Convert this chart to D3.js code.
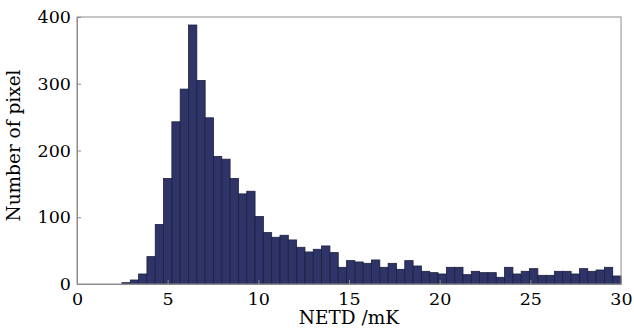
<!DOCTYPE html>
<html><head><meta charset="utf-8">
<script src="https://cdn.jsdelivr.net/npm/d3@7/dist/d3.min.js"></script>
<style>body{margin:0;background:#fff}svg{display:block}</style>
</head><body>
<svg id="c" width="634" height="328"></svg>
<script>
const binStart = 2.48;
const binWidth = 0.4587;
const counts = [2,6,15,41,89,158,243,292,388,305,249,191,187,158,135,139,101,77,70,73,66,55,48,52,57,47,25,35,33,31,36,25,31,22,35,27,19,17,15,25,25,14,19,17,17,10,25,15,19,23,13,13,19,19,15,23,19,21,25,12];
const xTicks = [0,5,10,15,20,25,30];
const yTicks = [0,100,200,300,400];
const xLabel = "NETD /mK";
const yLabel = "Number of pixel";

const svg = d3.select("#c");
const L=77,R=621,T=17,B=284;
const x = d3.scaleLinear().domain([0,30]).range([L,R]);
const y = d3.scaleLinear().domain([0,400]).range([B,T]);
const font = "'DejaVu Serif', serif";
const axisCol = "#8c8c8c";

const bins = counts.map((c,i)=>({x0:binStart+i*binWidth, x1:binStart+(i+1)*binWidth, c}));
svg.append("g").selectAll("rect").data(bins).join("rect")
  .attr("x",d=>x(d.x0)).attr("width",d=>x(d.x1)-x(d.x0))
  .attr("y",d=>y(d.c)).attr("height",d=>y(0)-y(d.c))
  .attr("fill","#2e3468").attr("stroke","#1c1f3c").attr("stroke-width",0.8);

svg.append("rect").attr("x",L).attr("y",T).attr("width",R-L).attr("height",B-T)
  .attr("fill","none").attr("stroke",axisCol).attr("stroke-width",1);

const xa = svg.append("g").attr("transform",`translate(0,${B})`)
  .call(d3.axisBottom(x).tickValues(xTicks).tickSize(-4).tickPadding(8).tickFormat(d3.format("d")));
const ya = svg.append("g").attr("transform",`translate(${L},0)`)
  .call(d3.axisLeft(y).tickValues(yTicks).tickSize(-4).tickPadding(6).tickFormat(d3.format("d")));
[xa,ya].forEach(g=>{
  g.select(".domain").attr("stroke",axisCol);
  g.selectAll(".tick line").attr("stroke",axisCol);
  g.selectAll("text").attr("font-family",font).attr("font-size",17.5).attr("fill","#000");
});
xa.selectAll("text").attr("dy","0.72em");

svg.append("text").attr("x",(L+R)/2).attr("y",324).attr("text-anchor","middle")
  .attr("font-family",font).attr("font-size",18.5).attr("fill","#000").text(xLabel);
svg.append("text").attr("transform",`translate(20,${(T+B)/2-5}) rotate(-90)`).attr("text-anchor","middle")
  .attr("font-family",font).attr("font-size",18.5).attr("fill","#000").text(yLabel);
</script>
</body></html>
